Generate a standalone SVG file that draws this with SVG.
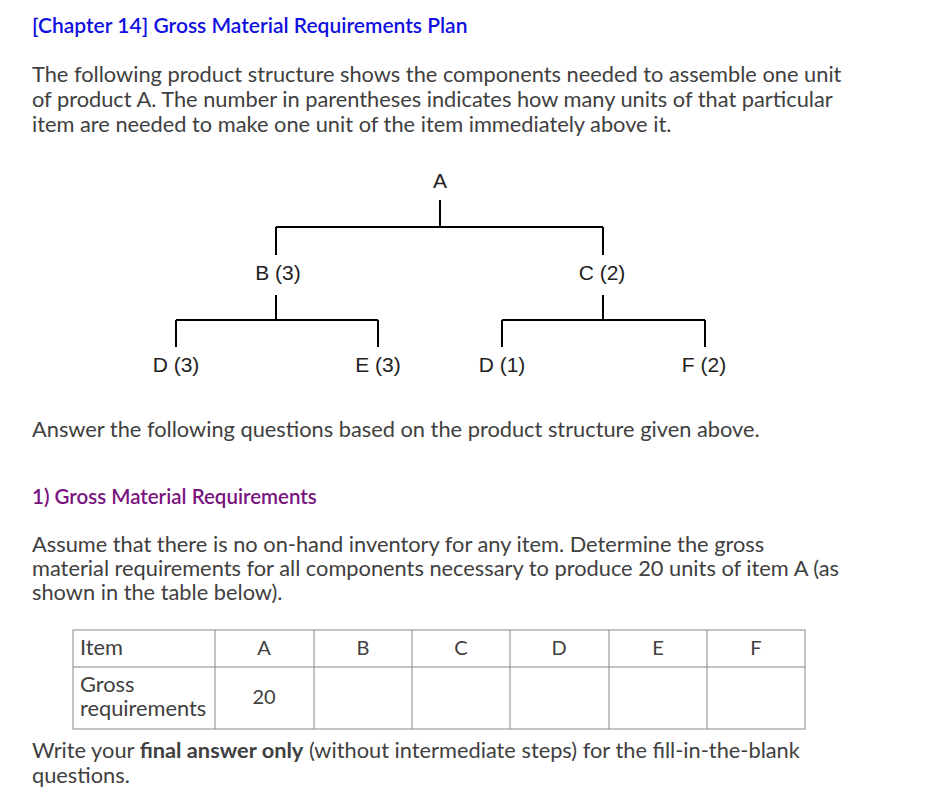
<svg xmlns="http://www.w3.org/2000/svg" width="937" height="805" viewBox="0 0 937 805">
<style>
.t{font-family:Lato,"Liberation Sans",sans-serif;font-size:21.8px;fill:#404040}
.n{font-family:"Liberation Sans",Arial,sans-serif;font-size:21px;fill:#222;text-anchor:middle}
.c{font-family:Lato,"Liberation Sans",sans-serif;font-size:20px;fill:#404040;text-anchor:middle}
.l{stroke:#000;stroke-width:2;fill:none}
.g{stroke:#888;stroke-width:1;fill:none}
</style>
<rect width="937" height="805" fill="#fff"/>
<text x="32" y="33" class="t" style="fill:#1010e0;font-weight:600;font-size:21px">[Chapter 14] Gross Material Requirements Plan</text>
<text class="t"><tspan x="32" y="82">The following product structure shows the components needed to assemble one unit</tspan><tspan x="32" y="107">of product A. The number in parentheses indicates how many units of that particular</tspan><tspan x="32" y="132">item are needed to make one unit of the item immediately above it.</tspan></text>
<g id="connectors">
<path class="l" d="M440 200V227M276 227H603M276 227V255M603 227V255M276 295V320M176 320H378M176 320V347M378 320V347M603 295V320M502 320H705M502 320V347M705 320V347"/>
</g>
<g id="nA"><text x="440" y="188" class="n">A</text></g>
<g id="nB"><text x="278" y="280" class="n">B (3)</text></g>
<g id="nC"><text x="602" y="280" class="n">C (2)</text></g>
<g id="nD3"><text x="176" y="372" class="n">D (3)</text></g>
<g id="nE"><text x="378" y="372" class="n">E (3)</text></g>
<g id="nD1"><text x="502" y="372" class="n">D (1)</text></g>
<g id="nF"><text x="704" y="372" class="n">F (2)</text></g>
<text x="32" y="437" class="t">Answer the following questions based on the product structure given above.</text>
<text x="32" y="504" class="t" style="fill:#7a1480;font-weight:600;font-size:20.5px">1) Gross Material Requirements</text>
<text class="t"><tspan x="32" y="552">Assume that there is no on-hand inventory for any item. Determine the gross</tspan><tspan x="32" y="576">material requirements for all components necessary to produce 20 units of item A (as</tspan><tspan x="32" y="600">shown in the table below).</tspan></text>
<g id="table">
<rect class="g" x="73" y="630" width="732" height="99"/>
<path class="g" d="M73 667H805M215 630V729M314 630V729M412 630V729M510 630V729M609 630V729M707 630V729"/>
<text x="80" y="655" class="t" style="font-size:21.8px">Item</text>
<text class="c" x="264" y="655">A</text><text class="c" x="363" y="655">B</text><text class="c" x="461" y="655">C</text><text class="c" x="559" y="655">D</text><text class="c" x="658" y="655">E</text><text class="c" x="756" y="655">F</text>
<text class="t" style="font-size:21.8px"><tspan x="80" y="692">Gross</tspan><tspan x="80" y="716">requirements</tspan></text>
<text class="c" x="264" y="704">20</text>
</g>
<text class="t"><tspan x="32" y="758">Write your <tspan font-weight="bold">final answer only</tspan> (without intermediate steps) for the fill-in-the-blank</tspan><tspan x="32" y="783">questions.</tspan></text>
</svg>
